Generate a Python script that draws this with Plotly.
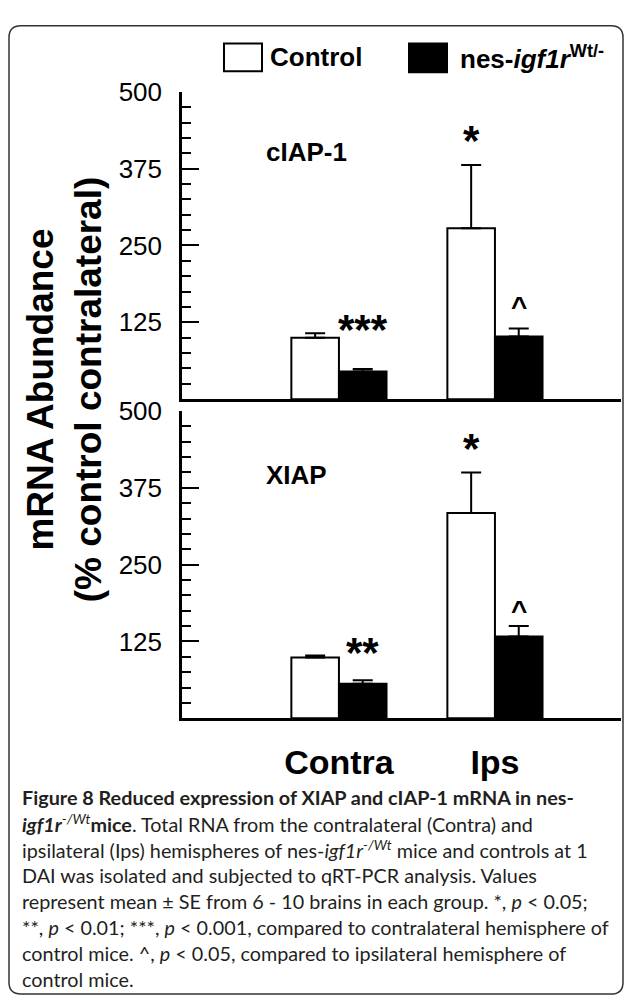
import plotly.graph_objects as go

# ---------------- data ----------------
groups = ["Contra", "Ips"]

ciap_control = [100, 278]
ciap_control_se = [7, 103]
ciap_nes = [45, 102]
ciap_nes_se = [4, 13]

xiap_control = [99, 334]
xiap_control_se = [3, 66]
xiap_nes = [56, 133]
xiap_nes_se = [6, 17]

ytick_vals = [125, 250, 375, 500]

# significance marks: (text, group, series, y value of glyph centre)
ciap_marks = [("*", "Ips", "control", 433), ("***", "Contra", "nes", 126), ("^", "Ips", "nes", 159)]
xiap_marks = [("*", "Ips", "control", 452), ("**", "Contra", "nes", 120), ("^", "Ips", "nes", 183)]

caption_lines = [
    "<b>Figure 8 Reduced expression of XIAP and cIAP-1 mRNA in nes-</b>",
    "<b><i>igf1r</i></b><i><sup>-/Wt</sup></i><b>mice</b>. Total RNA from the contralateral (Contra) and",
    "ipsilateral (Ips) hemispheres of nes-<i>igf1r</i><i><sup>-/Wt</sup></i> mice and controls at 1",
    "DAI was isolated and subjected to qRT-PCR analysis. Values",
    "represent mean ± SE from 6 - 10 brains in each group. *, <i>p</i> &lt; 0.05;",
    "**, <i>p</i> &lt; 0.01; ***, <i>p</i> &lt; 0.001, compared to contralateral hemisphere of",
    "control mice. ^, <i>p</i> &lt; 0.05, compared to ipsilateral hemisphere of",
    "control mice.",
]

# ---------------- layout helpers ----------------
W, H = 627, 997
def px(x):
    return x / W
def py(y):
    return 1 - y / H

FONT = "Liberation Sans, Arial, sans-serif"
CAPFONT = "Lato, Open Sans, sans-serif"

fig = go.Figure()

def add_panel(ctrl, ctrl_se, nes, nes_se, xa, ya):
    fig.add_trace(go.Bar(
        x=groups, y=ctrl, name="Control", xaxis=xa, yaxis=ya,
        marker=dict(color="white", line=dict(color="black", width=2)),
        error_y=dict(type="data", symmetric=False, array=ctrl_se, arrayminus=[0] * len(ctrl_se),
                     color="black", thickness=2, width=10),
        showlegend=False,
    ))
    fig.add_trace(go.Bar(
        x=groups, y=nes, name="nes-igf1r Wt/-", xaxis=xa, yaxis=ya,
        marker=dict(color="black", line=dict(color="black", width=2)),
        error_y=dict(type="data", symmetric=False, array=nes_se, arrayminus=[0] * len(nes_se),
                     color="black", thickness=2, width=10),
        showlegend=False,
    ))

add_panel(ciap_control, ciap_control_se, ciap_nes, ciap_nes_se, "x2", "y2")
add_panel(xiap_control, xiap_control_se, xiap_nes, xiap_nes_se, "x", "y")

x_dom = [px(182), px(621)]
x_rng = [-1.006, 1.808]

yaxis_common = dict(
    range=[0, 500], showline=True, linewidth=2.5, linecolor="black",
    ticks="inside", ticklen=17, tickwidth=2, tickcolor="black",
    tickmode="array", tickvals=ytick_vals,
    tickfont=dict(family=FONT, size=26, color="black"),
    minor=dict(ticks="inside", ticklen=9, tickwidth=2, tickcolor="black",
               tickmode="linear", tick0=0, dtick=25),
    showgrid=False, zeroline=False, ticklabelstandoff=12,
)

fig.update_layout(
    width=W, height=H, autosize=False,
    margin=dict(l=0, r=0, t=0, b=0),
    paper_bgcolor="white", plot_bgcolor="white",
    barmode="group", bargap=0.39, bargroupgap=0,
    xaxis=dict(domain=x_dom, anchor="y", range=x_rng, type="category",
               showline=True, linewidth=2.5, linecolor="black", ticks="",
               tickfont=dict(family=FONT, size=34, color="black"),
               tickprefix="<b>", ticksuffix="</b>",
               showgrid=False, ticklabelstandoff=12),
    xaxis2=dict(domain=x_dom, anchor="y2", range=x_rng, type="category", matches="x",
                showline=True, linewidth=2.5, linecolor="black", ticks="",
                showticklabels=False, showgrid=False),
    yaxis=dict(domain=[py(714), py(402)], anchor="x", **yaxis_common),
    yaxis2=dict(domain=[py(390), py(78)], anchor="x2", **yaxis_common),
)

annotations = []
half = 0.1525
for marks, xr, yr in [(ciap_marks, "x2", "y2"), (xiap_marks, "x", "y")]:
    for text, grp, series, yv in marks:
        xi = groups.index(grp) + (-half if series == "control" else half)
        size = 42 if text.startswith("*") else 28
        annotations.append(dict(
            x=xi, y=yv, xref=xr, yref=yr, text="<b>%s</b>" % text, showarrow=False,
            xanchor="center", yanchor="middle", yshift=-size * 0.18,
            font=dict(family=FONT, size=size, color="black"),
        ))

# panel labels
annotations.append(dict(x=px(264), y=402, xref="paper", yref="y2", text="<b>cIAP-1</b>",
                        showarrow=False, xanchor="left", yanchor="middle",
                        font=dict(family=FONT, size=26, color="black")))
annotations.append(dict(x=px(264), y=395, xref="paper", yref="y", text="<b>XIAP</b>",
                        showarrow=False, xanchor="left", yanchor="middle",
                        font=dict(family=FONT, size=26, color="black")))

# y axis title
annotations.append(dict(x=px(64), y=py(380), xref="paper", yref="paper",
                        text="<b>mRNA Abundance<br>(% control contralateral)</b>",
                        textangle=-90, showarrow=False, xanchor="center", yanchor="middle",
                        font=dict(family=FONT, size=37, color="black")))

# legend
annotations.append(dict(x=px(268), y=py(43), xref="paper", yref="paper", text="<b>Control</b>",
                        showarrow=False, xanchor="left", yanchor="middle",
                        font=dict(family=FONT, size=26, color="black")))
annotations.append(dict(x=px(458), y=py(43), xref="paper", yref="paper",
                        text="<b>nes-<i>igf1r</i><sup>Wt/-</sup></b>",
                        showarrow=False, xanchor="left", yanchor="middle",
                        font=dict(family=FONT, size=26, color="black")))

# caption
for i, line in enumerate(caption_lines):
    annotations.append(dict(x=px(20), y=py(794 + 26.4 * i), xref="paper", yref="paper",
                            text=line, showarrow=False, xanchor="left", yanchor="middle",
                            font=dict(family=CAPFONT, size=19.8, color="#231f20")))

shapes = [
    dict(type="rect", xref="paper", yref="paper", x0=px(224), x1=px(262), y0=py(57), y1=py(29),
         fillcolor="white", line=dict(color="black", width=2)),
    dict(type="rect", xref="paper", yref="paper", x0=px(409), x1=px(447), y0=py(58), y1=py(29),
         fillcolor="black", line=dict(color="black", width=2)),
]

# rounded outer border
L, T, R, B, r = 9, 11, 623, 994, 12
pts = [
    ("M", L + r, T), ("L", R - r, T), ("Q", R, T, R, T + r), ("L", R, B - r),
    ("Q", R, B, R - r, B), ("L", L + r, B), ("Q", L, B, L, B - r), ("L", L, T + r),
    ("Q", L, T, L + r, T),
]
path = ""
for p in pts:
    cmd = p[0]
    coords = p[1:]
    vals = []
    for j in range(0, len(coords), 2):
        vals.append("%.5f,%.5f" % (px(coords[j]), py(coords[j + 1])))
    path += cmd + " ".join(vals) + " "
path += "Z"
shapes.append(dict(type="path", xref="paper", yref="paper", path=path,
                   line=dict(color="#333333", width=1.5), fillcolor="rgba(0,0,0,0)"))

fig.update_layout(annotations=annotations, shapes=shapes)

fig.write_html("out.html", config={"displayModeBar": False},
               post_script="document.body.style.margin='0px';document.body.style.overflow='hidden';")
